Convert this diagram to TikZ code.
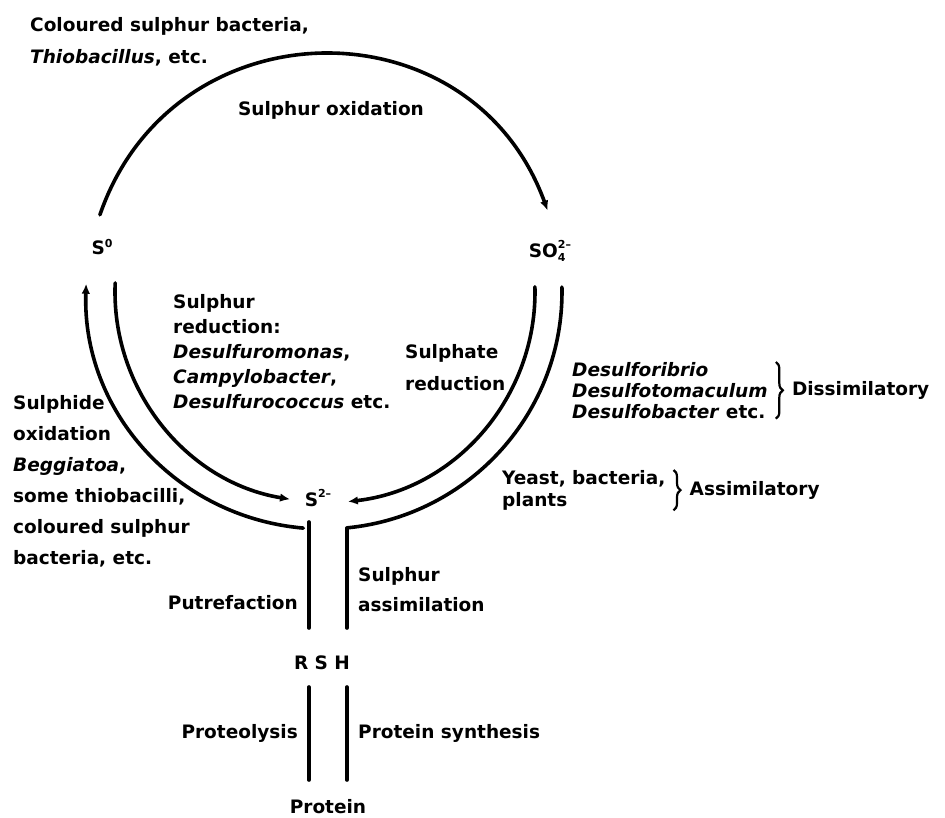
\documentclass[tikz,border=0pt]{standalone}
\usepackage{fontspec}
\setmainfont{DejaVu Sans}
\usetikzlibrary{arrows.meta,decorations.pathreplacing}
\newcommand{\lsk}[1]{\fontsize{18.5}{#1}\selectfont}
\newcommand{\smallscr}[1]{{\fontsize{11}{11}\selectfont #1}}

\begin{document}
\begin{tikzpicture}[x=1pt,y=1pt,
    every node/.style={font=\bfseries\lsk{28},inner sep=0pt,align=left}]
    \useasboundingbox (-324,-525) rectangle (621,292);
    % the sulphur species, placed round the circle
    \node (1) at (-222,45) {S\raisebox{0.75ex}{\smallscr{0}}};
    \node (2) at (226,41) {SO\makebox[0pt][l]{\raisebox{-0.45ex}{\smallscr{4}}}\raisebox{0.85ex}{\smallscr{2--}}};
    \node (3) at (-6,-206) {S\raisebox{0.85ex}{\smallscr{2--}}};
    \node (4) at (-2,-371) {R S H};
    \node (5) at (4,-515) {Protein};

    \node[anchor=north west,font=\bfseries\lsk{32}] (6) at (-294,275) {Coloured sulphur bacteria,\\\textit{Thiobacillus}, etc.};
    \node (7) at (7,182) {Sulphur oxidation};
    \node[anchor=north west,font=\bfseries\lsk{25}] (8) at (-151,-2) {Sulphur\\reduction:\\\textit{Desulfuromonas},\\\textit{Campylobacter},\\\textit{Desulfurococcus} etc.};
    \node[anchor=north west,font=\bfseries\lsk{32}] (9) at (81,-52) {Sulphate\\reduction};
    \node[anchor=north west,font=\bfseries\lsk{31}] (10) at (-311,-103) {Sulphide\\oxidation\\\textit{Beggiatoa},\\some thiobacilli,\\coloured sulphur\\bacteria, etc.};
    \node[anchor=north west,font=\bfseries\lsk{21}] (11) at (248,-70) {\textit{Desulforibrio}\\\textit{Desulfotomaculum}\\\textit{Desulfobacter} etc.};
    \node[anchor=north west,font=\bfseries\lsk{22}] (12) at (178,-178) {Yeast, bacteria,\\plants};
    \node[anchor=west] (13) at ([xshift=24pt]11.east) {Dissimilatory};
    \node[anchor=west] (14) at ([xshift=24pt]12.east) {Assimilatory};
    \node[anchor=east] (15) at (-26,-311) {Putrefaction};
    \node[anchor=north west,font=\bfseries\lsk{30}] (16) at (34,-275) {Sulphur\\assimilation};
    \node[anchor=east] (17) at (-26,-441) {Proteolysis};
    \node[anchor=west] (18) at (34,-441) {Protein synthesis};

    % ends of the arcs and bars
    \coordinate (a1) at (161:237);   \coordinate (a2) at (20:238);
    \coordinate (b1) at (265:237);   \coordinate (b2) at (178:238);
    \coordinate (c1) at (177.5:209); \coordinate (c2) at (260.7:210);
    \coordinate (d1) at (1.4:211);   \coordinate (d2) at (276.5:211);
    \coordinate (e1) at (1.2:238);   \coordinate (e2) at (275.6:237);
    \coordinate (f1) at (-15,-230);  \coordinate (f2) at (-15,-336);
    \coordinate (g1) at (23,-236);   \coordinate (g2) at (23,-336);
    \coordinate (h1) at (-15,-395);  \coordinate (h2) at (-15,-488);
    \coordinate (i1) at (23,-395);   \coordinate (i2) at (23,-488);

    \path[line width=3.6pt, line cap=round]
    (a1) [-{Latex[length=10pt,width=8.5pt]}] edge [out=71, in=110, looseness=1.28] (a2)
    (b1) [-{Latex[length=10pt,width=8.5pt]}] edge [out=175, in=-92, looseness=1] (b2)
    (c1) [-{Latex[length=10pt,width=8.5pt]}] edge [out=267.5, in=170.7, looseness=0.97] (c2)
    (d1) [-{Latex[length=10pt,width=8.5pt]}] edge [out=-88.6, in=6.5, looseness=0.98] (d2)
    (e1) [-] edge [out=-88.8, in=5.6, looseness=0.98] (e2)
    (f1) edge (f2)
    (g1) edge (g2)
    (h1) edge (h2)
    (i1) edge (i2);

    \draw[line width=2.2pt, decorate, decoration={brace,amplitude=7pt}] ([xshift=8pt]11.north east) -- ([xshift=8pt]11.south east);
    \draw[line width=2.2pt, decorate, decoration={brace,amplitude=7pt}] ([xshift=8pt]12.north east) -- ([xshift=8pt]12.south east);
\end{tikzpicture}
\end{document}
